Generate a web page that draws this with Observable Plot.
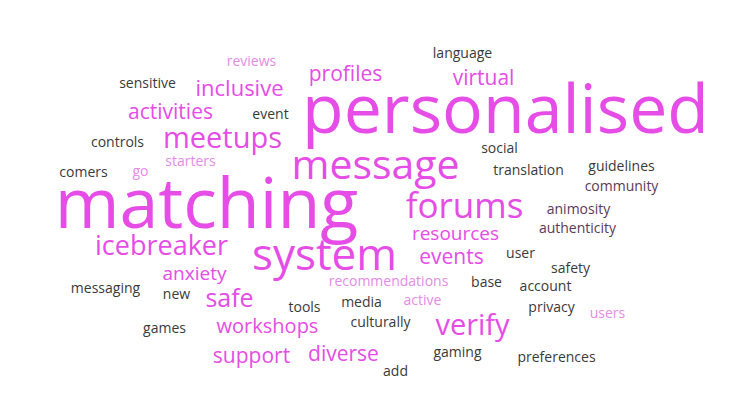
<!DOCTYPE html>
<html><head><meta charset="utf-8">
<script src="https://cdn.jsdelivr.net/npm/d3@7"></script>
<script src="https://cdn.jsdelivr.net/npm/@observablehq/plot@0.6"></script>
<style>body{margin:0;background:#fff}</style>
</head><body><div id="chart"></div>
<script>
// word cloud: word, centre x, centre y, font size, tone (0 big magenta, 1 light pink, 2 dark grey)
const words = ["personalised","matching","message","system","forums","meetups","icebreaker","verify","inclusive","profiles","virtual","activities","resources","events","anxiety","safe","workshops","support","diverse",
  "language","sensitive","event","controls","social","comers","translation","guidelines","community","animosity","authenticity","user","safety","account","base","messaging","new","tools","media","privacy","culturally","games","gaming","preferences","add",
  "reviews","go","starters","recommendations","active","users"];
const xs = [505,206,375,324,464,222,161,472,239,345,483,170,455,451,194,229,267,251,343,
  462,147,270,117,499,83,528,621,621,578,577,520,570,545,486,105,176,304,361,551,380,164,457,556,395,
  251,140,190,388,422,607];
const ys = [111,205,165,255,206,138,246,325,88,74,78,112,233,257,273,298,326,356,354,
  53,83,114,142,148,172,170,166,186,209,228,253,268,286,282,288,294,307,302,307,322,328,352,357,371,
  61,171,161,281,300,313];
const sizes = [68,70,41,44,35,29,27,29,22,21,21,21,19,21,19,25,20,21,21,
  14,14,14,14,14,14,14,14,14,14,14,14,14,14,14,14,14,14,14,14,14,14,14,14,14,
  14,14,14,14,14,14];
const tones = [0,0,0,0,0,0,0,0,0,0,0,0,0,0,0,0,0,0,0,
  2,2,2,2,2,2,2,2,3,3,3,2,2,2,2,2,2,2,2,2,2,2,2,2,2,
  1,1,1,1,1,1];
const toneColors = ["#e64ce6","#e68ae8","#3a3a3a","#5a3a58"];

const table = words.map((w, i) => ({word: w, x: xs[i], y: ys[i], size: sizes[i], color: toneColors[tones[i]]}));

const chart = Plot.plot({
  width: 744, height: 416,
  margin: 0,
  x: {domain: [0, 744], axis: null},
  y: {domain: [0, 416], reverse: true, axis: null},
  style: {fontFamily: "'Open Sans', sans-serif"},
  marks: [
    Plot.text(table, {
      x: "x", y: "y", text: "word",
      fontSize: (d) => d.size,
      fill: (d) => d.color,
      textAnchor: "middle", lineAnchor: "middle"
    })
  ]
});
d3.select('#chart').append(() => chart);
d3.select(chart).selectAll("text").each(function (d, i) {
  if (table[i]) d3.select(this).attr("font-size", table[i].size).attr("fill", table[i].color);
});
</script></body></html>
